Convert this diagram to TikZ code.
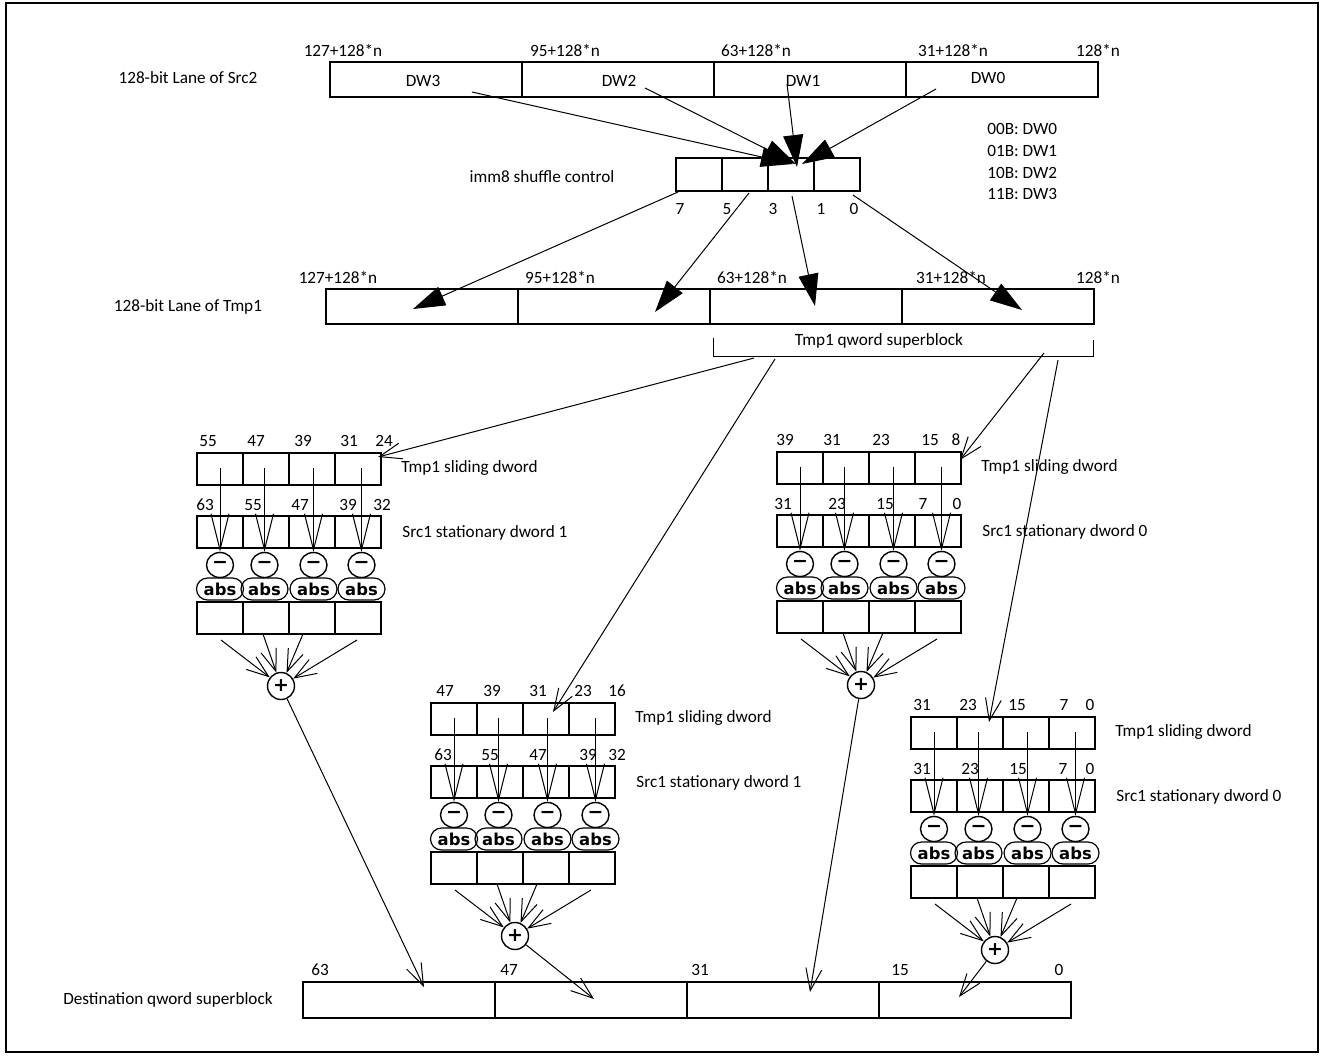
\documentclass[tikz,border=0pt]{standalone}
\usepackage{fontspec}
\setmainfont{Carlito}
\newfontfamily\symf{DejaVu Sans}
\usetikzlibrary{arrows.meta,shapes.misc,shapes.geometric,calc}
\newcommand\SadBlock[6]{%
 \begin{scope}[shift={(#2,#3)}]
  \foreach \i in {0,1,2,3}{
    \node[cell] (#1t\i) at ({23+46*\i},16) {};
    \node[cell] (#1s\i) at ({23+46*\i},79) {};
    \node[cell] (#1r\i) at ({23+46*\i},165) {};
  }
  \foreach \i/\xa in {0/23,1/67.5,2/116.5,3/164.5}{
    \node[minusc] (#1m\i) at (\xa,112) {−};
    \node[absp] (#1a\i) at (\xa,136) {abs};
    \coordinate (#1p\i) at (\xa,15);
    \draw[vbarb] (#1p\i) -- (#1m\i);
  }
  \node[plusc] (#1plus) at (84,233) {+};
  \coordinate (#1q0) at (24,187);
  \coordinate (#1q1) at (66,181);
  \coordinate (#1q2) at (106,181);
  \coordinate (#1q3) at (160,187);
  \foreach \i in {0,1,2,3}{\draw[barb] (#1q\i) -- (#1plus);}
  \foreach \lx/\lt in {#4}{\node[lab] (#1tl\lx) at (\lx,-12) {\lt};}
  \foreach \lx/\lt in {#5}{\node[lab] (#1sl\lx) at (\lx,52) {\lt};}
  \node[lab,anchor=west] (#1tn) at (204,15) {Tmp1 sliding dword};
  \node[lab,anchor=west] (#1sn) at (205,80) {Src1 stationary dword #6};
 \end{scope}}
\begin{document}
\begin{tikzpicture}[x=0.5pt,y=-0.5pt,
  font=\fontsize{8.6}{10}\selectfont,
  lab/.style={inner sep=0pt,anchor=center},
  cell/.style={draw,line width=1.25pt,minimum width=23pt,minimum height=16pt,inner sep=0pt},
  wcell/.style={draw,line width=1.25pt,minimum width=96pt,minimum height=17.5pt,inner sep=0pt},
  icell/.style={draw,line width=1.25pt,minimum width=23pt,minimum height=16.5pt,inner sep=0pt},
  minusc/.style={draw,line width=0.7pt,ellipse,minimum width=13.5pt,minimum height=12.5pt,inner sep=0pt,font=\symf\bfseries\fontsize{9.5}{9.5}\selectfont},
  plusc/.style={draw,line width=0.7pt,circle,minimum size=13.5pt,inner sep=0pt,font=\symf\bfseries\fontsize{9.5}{9.5}\selectfont},
  absp/.style={draw,line width=0.6pt,rounded rectangle,minimum width=24.5pt,minimum height=11pt,inner sep=0.5pt,font=\symf\bfseries\fontsize{8.2}{8.2}\selectfont},
  big/.style={line width=0.5pt,-{Triangle[length=16pt,width=10pt]}},
  barb/.style={line width=0.5pt,-{Straight Barb[length=11pt,width=8pt]}},
  vbarb/.style={line width=0.5pt,-{Straight Barb[length=18pt,width=9pt]}}
]
\useasboundingbox (0,0) rectangle (1321,1055);
\draw[line width=1.3pt] (6,3) rectangle (1318,1052);

% left titles
\node[lab] (tsrc2) at (188,78) {128-bit Lane of Src2};
\node[lab] (timm) at (542,177) {imm8 shuffle control};
\node[lab] (ttmp) at (188,307) {128-bit Lane of Tmp1};
\node[lab] (tdst) at (168,1000) {Destination qword superblock};

% Src2 lane
\foreach \i in {0,1,2,3}{
  \node[wcell] (src\i) at ({426+192*\i},79.5) {};
}
\node[lab] (dw3) at (423,81) {DW3};
\node[lab] (dw2) at (619,81) {DW2};
\node[lab] (dw1) at (803,81) {DW1};
\node[lab] (dw0) at (988,78) {DW0};
\node[lab] (sl1) at (343,50) {127+128*n};
\node[lab] (sl2) at (565,50) {95+128*n};
\node[lab] (sl3) at (756,50) {63+128*n};
\node[lab] (sl4) at (953,50) {31+128*n};
\node[lab] (sl5) at (1098,50) {128*n};

% legend
\node[lab,anchor=west] (lg0) at (987,129) {00B: DW0};
\node[lab,anchor=west] (lg1) at (987,151) {01B: DW1};
\node[lab,anchor=west] (lg2) at (987,173) {10B: DW2};
\node[lab,anchor=west] (lg3) at (987,194) {11B: DW3};

% imm8
\foreach \i in {0,1,2,3}{\node[icell] (imm\i) at ({699+46*\i},174.5) {};}
\node[lab] (b7) at (680,209) {7};
\node[lab] (b5) at (727,209) {5};
\node[lab] (b3) at (773,209) {3};
\node[lab] (b1) at (821,209) {1};
\node[lab] (b0) at (854,209) {0};

% Tmp1 lane
\foreach \i in {0,1,2,3}{\node[wcell] (tmp\i) at ({422+192*\i},306.5) {};}
\node[lab] (tl1) at (338,277) {127+128*n};
\node[lab] (tl2) at (560,277) {95+128*n};
\node[lab] (tl3) at (752,277) {63+128*n};
\node[lab] (tl4) at (951,277) {31+128*n};
\node[lab] (tl5) at (1098,277) {128*n};

% arrows Src2 -> imm8
\coordinate (a3s) at (472,92);  \coordinate (a3e) at (793,164);
\coordinate (a2s) at (645,88);  \coordinate (a2e) at (796,164);
\coordinate (a1s) at (787,84);  \coordinate (a1e) at (797,167);
\coordinate (a0s) at (936,89);  \coordinate (a0e) at (802,164);
\draw[big] (a3s) -- (a3e);
\draw[big] (a2s) -- (a2e);
\draw[big] (a1s) -- (a1e);
\draw[big] (a0s) -- (a0e);

% arrows imm8 -> Tmp1
\coordinate (c7s) at (678,192); \coordinate (c7e) at (413,309);
\coordinate (c5s) at (749,193); \coordinate (c5e) at (655,312);
\coordinate (c3s) at (792,196); \coordinate (c3e) at (815,306);
\coordinate (c0s) at (853,195); \coordinate (c0e) at (1022,310);
\draw[big] (c7s) -- (c7e);
\draw[big] (c5s) -- (c5e);
\draw[big] (c3s) -- (c3e);
\draw[big] (c0s) -- (c0e);

% superblock bracket
\draw[line width=0.5pt] (713,338) -- (713,356) -- (1093,356) -- (1093,340);
\node[lab] (tsb) at (879,341) {Tmp1 qword superblock};

% sliding blocks
\SadBlock{A}{197}{453}{11/55,59/47,106/39,152/31,187/24}{8/63,56/55,103/47,151/39,185/32}{1}
\SadBlock{B}{777}{452}{8/39,55/31,104/23,153/15,179/8}{6/31,60/23,108/15,146/7,180/0}{0}
\SadBlock{C}{431}{703}{14/47,61/39,107/31,152/23,186/16}{12/63,59/55,107/47,157/39,186/32}{1}
\SadBlock{D}{911}{717}{11/31,57/23,106/15,153/7,179/0}{11/31,59/23,107/15,152/7,179/0}{0}

% bracket -> blocks
\coordinate (kAs) at (754,358);  \coordinate (kAe) at (378,457);
\coordinate (kCs) at (775,359);  \coordinate (kCe) at (553,712);
\coordinate (kBs) at (1044,353); \coordinate (kBe) at (960,460);
\coordinate (kDs) at (1058,360); \coordinate (kDe) at (989,722);
\draw[barb] (kAs) -- (kAe);
\draw[barb] (kCs) -- (kCe);
\draw[barb] (kBs) -- (kBe);
\draw[barb] (kDs) -- (kDe);

% destination
\foreach \i in {0,1,2,3}{\node[wcell,minimum height=18pt] (dst\i) at ({399+192*\i},1000) {};}
\node[lab] (dl1) at (320,970) {63};
\node[lab] (dl2) at (509,970) {47};
\node[lab] (dl3) at (700,970) {31};
\node[lab] (dl4) at (900,970) {15};
\node[lab] (dl5) at (1059,970) {0};

\coordinate (dA) at (424,987);
\coordinate (dC) at (594,999);
\coordinate (dB) at (810,992);
\coordinate (dD) at (959,997);
\draw[barb] (Aplus) -- (dA);
\draw[barb] (Cplus) -- (dC);
\draw[barb] (Bplus) -- (dB);
\draw[barb] (Dplus) -- (dD);
\end{tikzpicture}
\end{document}
